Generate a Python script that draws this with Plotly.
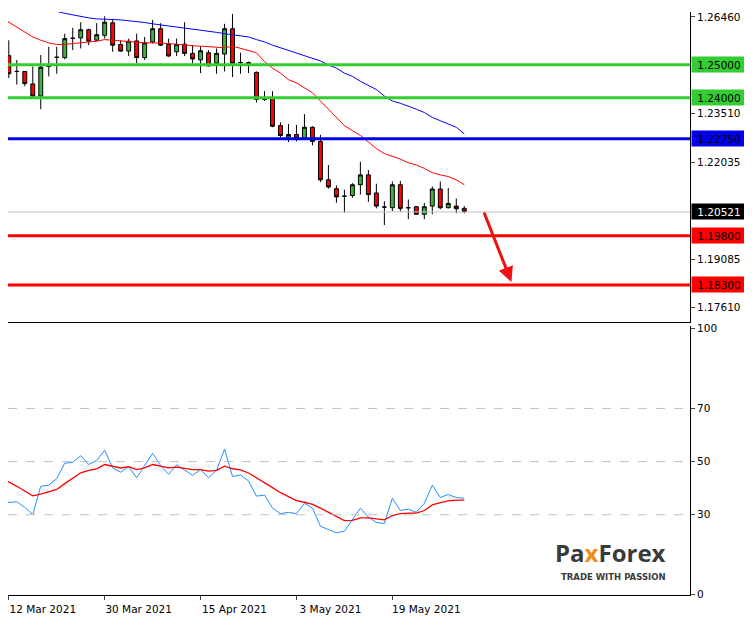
import pandas as pd
import plotly.graph_objects as go

# daily candles
dates = pd.bdate_range("2021-03-11", periods=59)
opens = [1.2620, 1.2528, 1.2480, 1.2480, 1.2442, 1.2405, 1.2495, 1.2523, 1.2522, 1.2581,
         1.2582, 1.2607, 1.2575, 1.2590, 1.2628, 1.2562, 1.2542, 1.2573, 1.2522, 1.2570,
         1.2610, 1.2562, 1.2540, 1.2563, 1.2535, 1.2515, 1.2537, 1.2505, 1.2533, 1.2610,
         1.2507, 1.2507, 1.2477, 1.2395, 1.2398, 1.2315, 1.2280, 1.2288, 1.2277, 1.2310,
         1.2267, 1.2150, 1.2123, 1.2100, 1.2102, 1.2135, 1.2165, 1.2110, 1.2067, 1.2065,
         1.2135, 1.2065, 1.2068, 1.2045, 1.2070, 1.2122, 1.2065, 1.2070, 1.2063]
closes = [1.2530, 1.2473, 1.2480, 1.2443, 1.2405, 1.2493, 1.2495, 1.2523, 1.2580, 1.2581,
          1.2607, 1.2572, 1.2592, 1.2630, 1.2560, 1.2542, 1.2572, 1.2522, 1.2567, 1.2610,
          1.2560, 1.2527, 1.2562, 1.2535, 1.2518, 1.2543, 1.2497, 1.2535, 1.2610, 1.2505,
          1.2507, 1.2502, 1.2395, 1.2395, 1.2313, 1.2285, 1.2288, 1.2277, 1.2310, 1.2267,
          1.2150, 1.2128, 1.2098, 1.2100, 1.2135, 1.2165, 1.2105, 1.2070, 1.2067, 1.2135,
          1.2063, 1.2065, 1.2045, 1.2068, 1.2122, 1.2065, 1.2078, 1.2062, 1.2053]
highs = [1.2625, 1.2575, 1.2515, 1.2480, 1.2495, 1.2530, 1.2555, 1.2555, 1.2595, 1.2613,
         1.2630, 1.2610, 1.2627, 1.2648, 1.2640, 1.2575, 1.2580, 1.2595, 1.2585, 1.2637,
         1.2627, 1.2580, 1.2580, 1.2630, 1.2560, 1.2557, 1.2545, 1.2550, 1.2625, 1.2655,
         1.2537, 1.2510, 1.2480, 1.2420, 1.2420, 1.2325, 1.2320, 1.2317, 1.2350, 1.2313,
         1.2287, 1.2195, 1.2133, 1.2120, 1.2140, 1.2205, 1.2180, 1.2138, 1.2085, 1.2145,
         1.2147, 1.2090, 1.2070, 1.2080, 1.2130, 1.2145, 1.2125, 1.2093, 1.2070]
lows = [1.2520, 1.2460, 1.2440, 1.2435, 1.2400, 1.2365, 1.2465, 1.2473, 1.2517, 1.2545,
        1.2550, 1.2560, 1.2573, 1.2580, 1.2540, 1.2540, 1.2527, 1.2505, 1.2515, 1.2565,
        1.2557, 1.2525, 1.2527, 1.2527, 1.2505, 1.2475, 1.2495, 1.2473, 1.2480, 1.2463,
        1.2473, 1.2475, 1.2385, 1.2390, 1.2310, 1.2280, 1.2265, 1.2267, 1.2275, 1.2255,
        1.2143, 1.2123, 1.2080, 1.2050, 1.2095, 1.2105, 1.2083, 1.2063, 1.2012, 1.2055,
        1.2053, 1.2030, 1.2045, 1.2030, 1.2045, 1.2060, 1.2063, 1.2048, 1.2048]

ma_fast = [1.2645, 1.2630, 1.2615, 1.2600, 1.2585, 1.2575, 1.2567, 1.2562, 1.2562, 1.2565,
           1.2567, 1.2570, 1.2572, 1.2577, 1.2575, 1.2573, 1.2570, 1.2570, 1.2567, 1.2567,
           1.2567, 1.2565, 1.2563, 1.2560, 1.2558, 1.2557, 1.2555, 1.2552, 1.2552, 1.2557,
           1.2550, 1.2545, 1.2537, 1.2510, 1.2490, 1.2475, 1.2455, 1.2445, 1.2430, 1.2415,
           1.2390, 1.2365, 1.2340, 1.2315, 1.2300, 1.2285, 1.2265, 1.2245, 1.2230, 1.2222,
           1.2213, 1.2202, 1.2195, 1.2185, 1.2172, 1.2165, 1.2160, 1.2150, 1.2135]
ma_slow = [1.2715, 1.2705, 1.2695, 1.2685, 1.2680, 1.2675, 1.2670, 1.2663, 1.2657, 1.2652,
           1.2647, 1.2643, 1.2640, 1.2638, 1.2638, 1.2637, 1.2635, 1.2632, 1.2629, 1.2625,
           1.2622, 1.2618, 1.2615, 1.2613, 1.2610, 1.2607, 1.2603, 1.2599, 1.2595, 1.2592,
           1.2588, 1.2585, 1.2577, 1.2570, 1.2560, 1.2552, 1.2543, 1.2535, 1.2528, 1.2520,
           1.2512, 1.2500, 1.2490, 1.2475, 1.2465, 1.2450, 1.2437, 1.2425, 1.2405, 1.2390,
           1.2383, 1.2375, 1.2365, 1.2355, 1.2340, 1.2330, 1.2320, 1.2310, 1.2290]

rsi = [38.6, 34.6, 34.9, 32.8, 30.0, 40.7, 41.1, 43.6, 49.4, 49.7,
       52.2, 48.9, 50.4, 54.3, 47.6, 46.0, 48.1, 43.9, 48.5, 53.1,
       48.5, 45.2, 48.8, 46.7, 44.8, 47.0, 43.9, 46.7, 54.7, 44.4,
       45.0, 42.7, 37.0, 37.4, 32.5, 30.4, 30.9, 30.4, 34.3, 32.5,
       25.7, 24.4, 23.2, 23.8, 28.1, 32.5, 29.1, 27.1, 26.7, 36.2,
       31.6, 32.1, 30.9, 34.3, 41.1, 36.5, 37.6, 36.5, 36.2]
rsi_ma = [44.4, 42.3, 40.7, 39.0, 37.1, 37.8, 38.6, 39.5, 41.7, 43.9,
          45.8, 46.7, 47.3, 48.9, 48.3, 47.6, 48.1, 47.0, 47.6, 48.9,
          48.3, 47.6, 47.9, 47.5, 47.0, 47.0, 46.4, 46.7, 48.3, 47.3,
          46.9, 45.7, 43.9, 42.3, 40.2, 38.3, 36.8, 35.3, 34.7, 33.9,
          32.5, 30.9, 29.1, 27.8, 27.9, 28.8, 28.8, 28.5, 28.1, 29.7,
          30.4, 30.6, 30.6, 31.6, 33.7, 34.6, 35.2, 35.5, 35.5]

levels = [1.2500, 1.2400, 1.2275, 1.1980, 1.1830]
level_colors = ["#33cc33", "#33cc33", "#0000ee", "#ff0000", "#ff0000"]
last_price = 1.20521
price_ticks = [1.26460, 1.23510, 1.22035, 1.19085, 1.17610]
osc_ticks = [0, 30, 50, 70, 100]
date_ticks = ["2021-03-12", "2021-03-30", "2021-04-15", "2021-05-03", "2021-05-19"]
date_text = ["12 Mar 2021", "30 Mar 2021", "15 Apr 2021", "3 May 2021", "19 May 2021"]

idx = list(range(len(dates)))
tick_idx = [list(dates.strftime("%Y-%m-%d")).index(d) for d in date_ticks]

fig = go.Figure()
fig.add_trace(go.Scatter(x=idx, y=ma_slow, mode="lines", line=dict(color="#0000ff", width=1)))
fig.add_trace(go.Scatter(x=idx, y=ma_fast, mode="lines", line=dict(color="#ff0000", width=1)))
fig.add_trace(go.Candlestick(
    x=idx, open=opens, high=highs, low=lows, close=closes, whiskerwidth=0,
    increasing=dict(line=dict(color="black", width=1), fillcolor="#3cb43c"),
    decreasing=dict(line=dict(color="black", width=1), fillcolor="#ff0000"),
))
fig.add_trace(go.Scatter(x=idx, y=rsi, mode="lines", line=dict(color="#1e90ff", width=1),
                         xaxis="x2", yaxis="y2"))
fig.add_trace(go.Scatter(x=idx, y=rsi_ma, mode="lines", line=dict(color="#ff0000", width=1.3),
                         xaxis="x2", yaxis="y2"))

fig.add_hline(y=last_price, line=dict(color="#c0c0c0", width=1), yref="y")
for lv, c in zip(levels, level_colors):
    fig.add_hline(y=lv, line=dict(color=c, width=3), yref="y")
    fig.add_annotation(x=1, xref="paper", xanchor="left", y=lv, yref="y", text=f"{lv:.5f}",
                       showarrow=False, font=dict(color="black", size=10.5, family="DejaVu Sans"),
                       bgcolor=c, width=52, height=13, xshift=1)
fig.add_annotation(x=1, xref="paper", xanchor="left", y=last_price, yref="y", text=f"{last_price:.5f}",
                   showarrow=False, font=dict(color="white", size=10.5, family="DejaVu Sans"),
                   bgcolor="black", width=52, height=13, xshift=1)
for g in [30, 50, 70]:
    fig.add_hline(y=g, line=dict(color="#c0c0c0", width=1, dash="dash"), yref="y2")

# forecast arrow
fig.add_annotation(x=63.9, y=1.1839, ax=60.4, ay=1.2055, xref="x", yref="y", axref="x", ayref="y",
                   showarrow=True, arrowhead=2, arrowsize=1, arrowwidth=3, arrowcolor="#ee1111", text="")

# logo
fig.add_annotation(x=0.968, y=0.072, xref="paper", yref="paper",
                   text="<b>Pa<span style='color:#f08a1c'>x</span>Forex</b>",
                   showarrow=False, font=dict(size=24, color="#3a3a3a", family="Open Sans"))
fig.add_annotation(x=0.968, y=0.05, xref="paper", yref="paper", text="<b>TRADE WITH PASSION</b>",
                   showarrow=False, font=dict(size=8.5, color="#3a3a3a", family="DejaVu Sans"))

axfont = dict(family="DejaVu Sans", size=10.5, color="black")
fig.update_layout(
    width=744, height=611, margin=dict(l=0, r=62, t=0, b=0),
    plot_bgcolor="white", paper_bgcolor="white", showlegend=False,
    xaxis=dict(domain=[0, 1], range=[0.9, 86.25], showticklabels=False, showgrid=False,
               rangeslider=dict(visible=False), showline=True, linecolor="black", zeroline=False),
    yaxis=dict(domain=[0.4845, 1], range=[1.1716, 1.2661], side="right", tickvals=price_ticks,
               ticktext=[f"{v:.5f}" for v in price_ticks], showgrid=False, showline=True, linecolor="black",
               ticks="outside", ticklen=4, tickfont=axfont, zeroline=False),
    xaxis2=dict(domain=[0, 1], anchor="y2", range=[0.9, 86.25], tickvals=tick_idx, ticktext=date_text,
                showgrid=False, showline=True, linecolor="black", ticks="outside", ticklen=4,
                ticklabelshift=34, tickfont=axfont, zeroline=False),
    yaxis2=dict(domain=[0.0311, 0.4779], range=[-0.3, 100.9], side="right", tickvals=osc_ticks,
                showgrid=False, showline=True, linecolor="black", ticks="outside", ticklen=4,
                tickfont=axfont, zeroline=False),
)
fig.write_html("out.html")
